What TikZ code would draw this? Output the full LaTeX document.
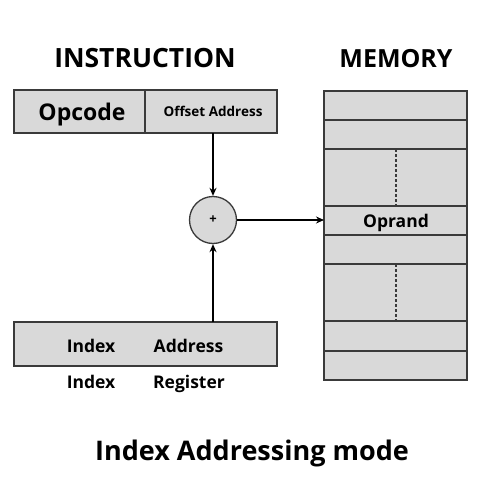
\documentclass[tikz,border=0pt]{standalone}
\usepackage{fontspec}
\setmainfont{Open Sans}
\usetikzlibrary{arrows.meta}
\definecolor{boxfill}{HTML}{D9D9D9}
\definecolor{boxline}{HTML}{3A3A3A}
\begin{document}
\begin{tikzpicture}[x=1pt,y=-1pt,
  cell/.style={draw=boxline,line width=1.3pt,fill=boxfill},
  lbl/.style={font=\bfseries,text=black,inner sep=0pt,anchor=base},
  arr/.style={-{Stealth[length=8pt,width=7pt]},line width=1.5pt,black}]
\useasboundingbox (0,0) rectangle (500,500);
% titles
\node[lbl,font=\fontsize{26.5}{30}\selectfont\bfseries] (tinst) at (145,68) {INSTRUCTION};
\node[lbl,font=\fontsize{25}{30}\selectfont\bfseries] (tmem) at (396,68) {MEMORY};
% instruction
\draw[cell] (14,90) rectangle (145,133);
\draw[cell] (145,90) rectangle (277,133);
\node[lbl,font=\fontsize{23}{27}\selectfont\bfseries] (opc) at (82,121) {Opcode};
\node[lbl,font=\fontsize{13.5}{16}\selectfont\bfseries] (off) at (213,117) {Offset Address};
\coordinate (offb) at (213,133);
% adder
\node[circle,draw=boxline,line width=1.3pt,fill=boxfill,minimum size=47pt,inner sep=0pt,font=\fontsize{13}{14}\selectfont\bfseries] (add) at (213,220) {+};
% register
\draw[cell] (14,322) rectangle (277,366);
\coordinate (regt) at (213,322);
\node[lbl,font=\fontsize{17.5}{21}\selectfont\bfseries] (ri) at (91,352) {Index};
\node[lbl,font=\fontsize{17.5}{21}\selectfont\bfseries] (ra) at (188.5,352) {Address};
\node[lbl,font=\fontsize{17.5}{21}\selectfont\bfseries] (li) at (91,388) {Index};
\node[lbl,font=\fontsize{17.5}{21}\selectfont\bfseries] (lr) at (189,388) {Register};
% memory
\foreach \a/\b in {91/120,120/149,149/206,206/235,235/264,264/321,321/351,351/380}
  \draw[cell] (324,\a) rectangle (467,\b);
\draw[boxline,line width=1.6pt,dash pattern=on 3pt off 2pt] (396,149) -- (396,206);
\draw[boxline,line width=1.6pt,dash pattern=on 3pt off 2pt] (396,264) -- (396,321);
\node[lbl,font=\fontsize{17.5}{21}\selectfont\bfseries] (opr) at (396,227) {Oprand};
\coordinate (meml) at (324,220);
% arrows
\draw[arr] (offb) -- (add.north);
\draw[arr] (regt) -- (add.south);
\draw[arr] (add.east) -- (meml);
% caption
\node[lbl,font=\fontsize{27}{32}\selectfont\bfseries] (cap) at (252,460) {Index Addressing mode};
\end{tikzpicture}
\end{document}
